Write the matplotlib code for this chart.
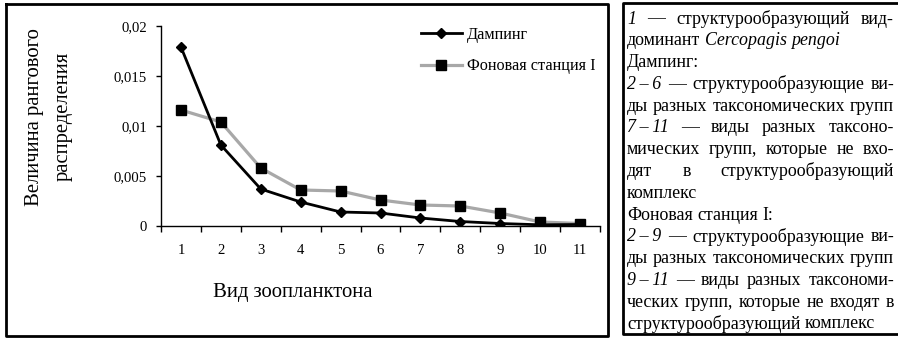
import matplotlib
matplotlib.use("Agg")
import matplotlib.pyplot as plt
from matplotlib.lines import Line2D
from matplotlib.ticker import FixedLocator

# ---------------- data ----------------
species = [1, 2, 3, 4, 5, 6, 7, 8, 9, 10, 11]
dumping = [0.0179, 0.0081, 0.0037, 0.0024, 0.0014, 0.0013, 0.0008, 0.00045, 0.00025, 0.00012, 0.00015]
background = [0.0116, 0.0104, 0.0058, 0.0036, 0.0035, 0.0026, 0.0021, 0.0020, 0.0013, 0.0004, 0.00025]
series_names = ["Дампинг", "Фоновая станция I"]
y_ticks = [0, 0.005, 0.01, 0.015, 0.02]
y_tick_labels = ["0", "0,005", "0,01", "0,015", "0,02"]
x_label = "Вид зоопланктона"
y_label_lines = ["Величина рангового", "распределения"]

# notes: each line is list of words; each word a list of (text, italic) runs
notes = [
    ([[("1", True)], [("—", False)], [("структурообразующий", False)], [("вид-", False)]], True),
    ([[("доминант", False)], [("Cercopagis", True)], [("pengoi", True)]], False),
    ([[("Дампинг:", False)]], False),
    ([[("2\u2009–\u20096", True)], [("—", False)], [("структурообразующие", False)], [("ви-", False)]], True),
    ([[("ды", False)], [("разных", False)], [("таксономических", False)], [("групп", False)]], True),
    ([[("7\u2009–\u200911", True)], [("—", False)], [("виды", False)], [("разных", False)], [("таксоно-", False)]], True),
    ([[("мических", False)], [("групп,", False)], [("которые", False)], [("не", False)], [("вхо-", False)]], True),
    ([[("дят", False)], [("в", False)], [("структурообразующий", False)]], True),
    ([[("комплекс", False)]], False),
    ([[("Фоновая", False)], [("станция", False)], [("I:", False)]], False),
    ([[("2\u2009–\u20099", True)], [("—", False)], [("структурообразующие", False)], [("ви-", False)]], True),
    ([[("ды", False)], [("разных", False)], [("таксономических", False)], [("групп", False)]], True),
    ([[("9\u2009–\u200911", True)], [("—", False)], [("виды", False)], [("разных", False)], [("таксономи-", False)]], True),
    ([[("ческих", False)], [("групп,", False)], [("которые", False)], [("не", False)], [("входят", False)], [("в", False)]], True),
    ([[("структурообразующий", False)], [("комплекс", False)]], False),
]

W, H = 898, 338
SERIF = ["Liberation Serif", "DejaVu Serif"]
plt.rcParams["font.family"] = SERIF

fig = plt.figure(figsize=(W / 100, H / 100), dpi=100)
fig.patch.set_facecolor("white")
fig.canvas.draw()
renderer = fig.canvas.get_renderer()


def fx(px):
    return px / W


def fy(py):
    return 1 - py / H


def measure(text, size, italic=False, rotation=0):
    t = fig.text(0, 0, text, fontsize=size, style="italic" if italic else "normal",
                 rotation=rotation)
    bb = t.get_window_extent(renderer)
    t.remove()
    return bb.height if rotation == 90 else bb.width


def fit(text, target_px, italic=False, rotation=0):
    return 10 * target_px / measure(text, 10, italic, rotation)


# ---------------- boxes ----------------
bw = 2.0
fig.add_artist(Line2D([fx(6), fx(608), fx(608), fx(6), fx(6)],
                      [fy(4), fy(4), fy(336), fy(336), fy(4)],
                      transform=fig.transFigure, color="black", lw=bw))
fig.add_artist(Line2D([fx(900), fx(623), fx(623), fx(900)],
                      [fy(3), fy(3), fy(334), fy(334)],
                      transform=fig.transFigure, color="black", lw=bw))

# ---------------- chart ----------------
ax = fig.add_axes([fx(161), fy(226), fx(600) - fx(161), fy(26) - fy(226)])
ax.set_facecolor("white")
ax.plot(species, background, color="#a8a8a8", lw=2.3, marker="s", ms=7,
        mfc="black", mec="black", label=series_names[1], zorder=2)
ax.plot(species, dumping, color="black", lw=2.0, marker="D", ms=5,
        mfc="black", mec="black", label=series_names[0], zorder=3)

ax.set_xlim(0.5, 11.5)
ax.set_ylim(0, 0.02)
tick_fs = fit("0,015", 33)
ax.yaxis.set_major_locator(FixedLocator(y_ticks))
ax.set_yticklabels(y_tick_labels)
ax.xaxis.set_major_locator(FixedLocator([i + 0.5 for i in range(0, 12)]))
ax.xaxis.set_minor_locator(FixedLocator(species))
ax.set_xticklabels([])
ax.set_xticklabels([str(s) for s in species], minor=True)
ax.tick_params(axis="x", which="major", direction="out", length=4.3, width=1, color="black")
ax.tick_params(axis="x", which="minor", length=0, pad=13, labelsize=tick_fs)
ax.tick_params(axis="y", direction="out", length=3.5, width=1, labelsize=tick_fs, pad=6.5)
for s in ["top", "right"]:
    ax.spines[s].set_visible(False)
for s in ["left", "bottom"]:
    ax.spines[s].set_linewidth(1)

leg_fs = fit(series_names[1], 129)
handles, labels = ax.get_legend_handles_labels()
leg = fig.legend(handles[::-1], labels[::-1], loc="upper left",
                 bbox_to_anchor=(fx(421), fy(27)), bbox_transform=fig.transFigure,
                 frameon=False, borderpad=0, borderaxespad=0, handlelength=2.5,
                 handletextpad=0.35, labelspacing=0.95, fontsize=leg_fs, numpoints=1)

ylab_fs = fit(y_label_lines[0], 179, rotation=90)
fig.text(fx(35), fy(117), y_label_lines[0], rotation=90, ha="center", va="center",
         fontsize=ylab_fs)
fig.text(fx(63), fy(116), y_label_lines[1], rotation=90, ha="center", va="center",
         fontsize=ylab_fs)
xlab_fs = fit(x_label, 160)
fig.text(fx(293), fy(293), x_label, ha="center", va="center", fontsize=xlab_fs)

# ---------------- justified notes ----------------
x0, x1 = 627, 894
space_w_factor = 0.25


def word_width(word, size):
    return sum(measure(t, size, it) for t, it in word)


size = fit("Фоновая станция I:", 158)
for words, just in notes:
    if not just:
        continue
    nat = sum(word_width(w, 10) for w in words) + (len(words) - 1) * 10 * 100 / 72 * space_w_factor
    size = min(size, 10 * (x1 - x0) / nat)
sp = size * 100 / 72 * space_w_factor

y_first, y_last = 17, 322
n = len(notes)
for i, (words, just) in enumerate(notes):
    yc = y_first + (y_last - y_first) * i / (n - 1)
    widths = [word_width(w, size) for w in words]
    total = sum(widths)
    if just and len(words) > 1:
        gap = (x1 - x0 - total) / (len(words) - 1)
    else:
        gap = sp
    x = x0
    for w, ww in zip(words, widths):
        xx = x
        for t, it in w:
            fig.text(fx(xx), fy(yc), t, fontsize=size,
                     style="italic" if it else "normal", ha="left", va="center_baseline")
            xx += measure(t, size, it)
        x += ww + gap

fig.savefig("out.png", dpi=100, facecolor="white")
